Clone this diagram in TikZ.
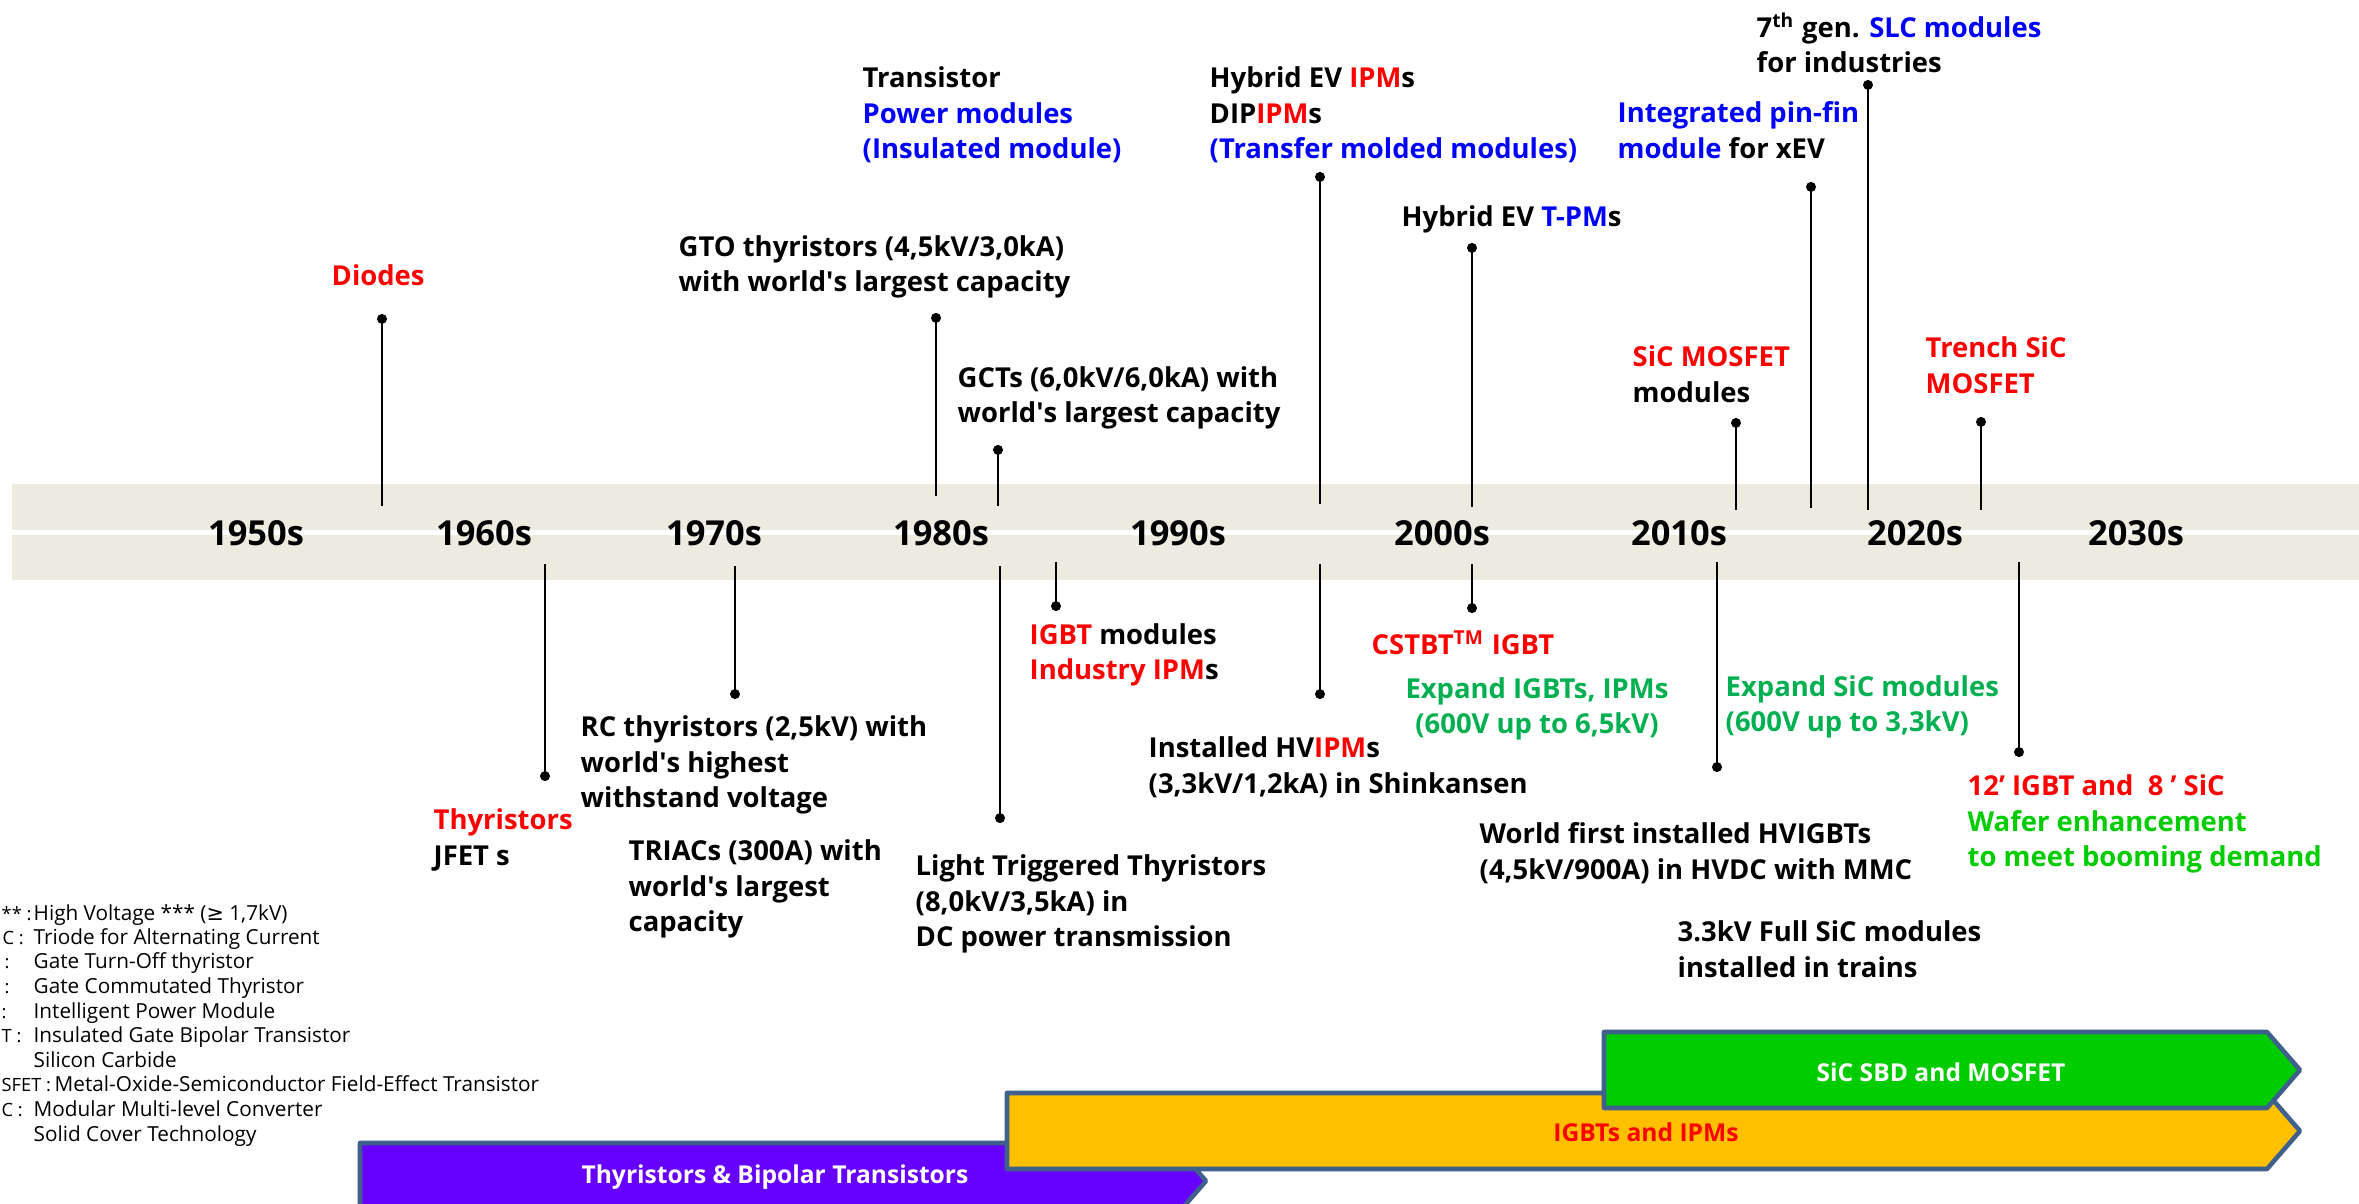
\documentclass[tikz,border=0pt]{standalone}
\usepackage{fontspec}
\setmainfont{Open Sans}
\newfontfamily\symfont{DejaVu Sans}
\usetikzlibrary{arrows.meta}
\definecolor{bandgray}{HTML}{EDEAE0}
\definecolor{hired}{HTML}{FF0000}
\definecolor{hiblue}{HTML}{0000FF}
\definecolor{hgreen}{HTML}{00B050}
\definecolor{lgreen}{HTML}{00CC00}
\definecolor{edgeblue}{HTML}{3F5F8C}
\definecolor{phpurple}{HTML}{6600FF}
\definecolor{phyellow}{HTML}{FFC000}
\definecolor{phgreen}{HTML}{00CC00}
\tikzset{
  evt/.style={anchor=west, inner sep=0pt, align=left,
              font=\fontsize{7.8}{10.1}\selectfont\bfseries},
  yr/.style={inner sep=0pt, font=\fontsize{9.8}{12}\selectfont\bfseries},
  stem/.style={line width=0.6pt, -{Circle[length=2.8pt]}},
  band/.style={fill=bandgray, draw=none},
  phase/.style={draw=edgeblue, line width=1.3pt, fill=#1, line join=round},
  phtxt/.style={inner sep=0pt, font=\fontsize{7}{8}\selectfont\bfseries, text=#1},
  lgd/.style={anchor=base west, inner sep=0pt, font=\fontsize{5.9}{7}\selectfont},
  lgdab/.style={lgd, font=\fontsize{5.2}{7}\selectfont},
}
\newcommand{\rd}[1]{\textcolor{hired}{#1}}
\newcommand{\bl}[1]{\textcolor{hiblue}{#1}}
\newcommand{\apo}{\textquotesingle}

\begin{document}
\begin{tikzpicture}[x=0.01cm, y=-0.01cm]
  \useasboundingbox (0,0) rectangle (2359,1204);
  \clip (0,0) rectangle (2359,1204);

  % timeline band
  \fill[band] (12,484) rectangle (2359,530);
  \fill[band] (12,535) rectangle (2359,580);

  % decades
  \node[yr] (y1950) at (256,533) {1950s};
  \node[yr] (y1960) at (484,533) {1960s};
  \node[yr] (y1970) at (714,533) {1970s};
  \node[yr] (y1980) at (941,533) {1980s};
  \node[yr] (y1990) at (1178,533) {1990s};
  \node[yr] (y2000) at (1442,533) {2000s};
  \node[yr] (y2010) at (1679,533) {2010s};
  \node[yr] (y2020) at (1915,533) {2020s};
  \node[yr] (y2030) at (2136,533) {2030s};

  % ABOVE THE BAND
  \node[evt, text=hired] (diodes) at (331,275) {Diodes};
  \node[evt] (gto) at (678,267) {GTO thyristors (4,5kV/3,0kA)\\with world\apo s largest capacity};
  \node[evt] (trans) at (862,115) {Transistor\\\bl{Power modules}\\\bl{(Insulated module)}};
  \node[evt] (gct) at (957,398) {GCTs (6,0kV/6,0kA) with\\world\apo s largest capacity};
  \node[evt] (hev) at (1209,115) {Hybrid EV \rd{IPM}s\\DIP\rd{IPM}s\\\bl{(Transfer molded modules)}};
  \node[evt] (tpm) at (1401,219) {Hybrid EV \bl{T-PM}s};
  \node[evt] (pinfin) at (1617,130) {\bl{Integrated pin-fin}\\\bl{module} for xEV};
  \node[evt] (slc) at (1756,43) {7\textsuperscript{th} gen. \bl{SLC modules}\\for industries};
  \node[evt] (sicmos) at (1632,374) {\rd{SiC MOSFET}\\modules};
  \node[evt, text=hired] (trench) at (1925,365) {Trench SiC\\MOSFET};

  \coordinate (diodes-b) at (382,506);  \coordinate (diodes-p) at (382,314);
  \coordinate (gto-b) at (936,496);     \coordinate (gto-p) at (936,313);
  \coordinate (gct-b) at (998,506);     \coordinate (gct-p) at (998,445);
  \coordinate (hev-b) at (1320,504);    \coordinate (hev-p) at (1320,172);
  \coordinate (tpm-b) at (1472,507);    \coordinate (tpm-p) at (1472,243);
  \coordinate (sicmos-b) at (1736,510); \coordinate (sicmos-p) at (1736,418);
  \coordinate (pinfin-b) at (1811,508); \coordinate (pinfin-p) at (1811,182);
  \coordinate (slc-b) at (1868,510);    \coordinate (slc-p) at (1868,80);
  \coordinate (trench-b) at (1981,510); \coordinate (trench-p) at (1981,417);

  \draw[stem] (diodes-b) -- (diodes-p);
  \draw[stem] (gto-b) -- (gto-p);
  \draw[stem] (gct-b) -- (gct-p);
  \draw[stem] (hev-b) -- (hev-p);
  \draw[stem] (tpm-b) -- (tpm-p);
  \draw[stem] (sicmos-b) -- (sicmos-p);
  \draw[stem] (pinfin-b) -- (pinfin-p);
  \draw[stem] (slc-b) -- (slc-p);
  \draw[stem] (trench-b) -- (trench-p);

  % BELOW THE BAND
  \node[evt] (thy) at (433,840) {\rd{Thyristors}\\JFET s};
  \node[evt] (rc) at (580,765) {RC thyristors (2,5kV) with\\world\apo s highest\\withstand voltage};
  \node[evt] (triac) at (628,889) {TRIACs (300A) with\\world\apo s largest\\capacity};
  \node[evt] (ltt) at (915,904) {Light Triggered Thyristors\\(8,0kV/3,5kA) in\\DC power transmission};
  \node[evt] (igbt) at (1029,655) {\rd{IGBT} modules\\\rd{Industry IPM}s};
  \node[evt] (hvipm) at (1148,767) {Installed HV\rd{IPM}s\\(3,3kV/1,2kA) in Shinkansen};
  \node[evt, text=hired] (cstbt) at (1371,643) {CSTBT\textsuperscript{TM} IGBT};
  \node[evt, anchor=center, align=center, text=hgreen] (expigbt) at (1537,709) {Expand IGBTs, IPMs\\(600V up to 6,5kV)};
  \node[evt] (hvigbt) at (1479,853) {World first installed HVIGBTs\\(4,5kV/900A) in HVDC with MMC};
  \node[evt, text=hgreen] (expsic) at (1725,707) {Expand SiC modules\\(600V up to 3,3kV)};
  \node[evt] (fullsic) at (1677,949) {3.3kV Full SiC modules\\installed in trains};
  \node[evt, text=lgreen] (wafer) at (1967,824) {\rd{12’ IGBT and \ 8 ’ SiC}\\Wafer enhancement\\to meet booming demand};

  \coordinate (thy-b) at (545,564);     \coordinate (thy-p) at (545,781);
  \coordinate (rc-b) at (735,566);      \coordinate (rc-p) at (735,699);
  \coordinate (ltt-b) at (1000,566);    \coordinate (ltt-p) at (1000,823);
  \coordinate (igbt-b) at (1056,562);   \coordinate (igbt-p) at (1056,611);
  \coordinate (hvipm-b) at (1320,564);  \coordinate (hvipm-p) at (1320,699);
  \coordinate (cstbt-b) at (1472,564);  \coordinate (cstbt-p) at (1472,613);
  \coordinate (hvigbt-b) at (1717,562); \coordinate (hvigbt-p) at (1717,772);
  \coordinate (wafer-b) at (2019,562);  \coordinate (wafer-p) at (2019,757);

  \draw[stem] (thy-b) -- (thy-p);
  \draw[stem] (rc-b) -- (rc-p);
  \draw[stem] (ltt-b) -- (ltt-p);
  \draw[stem] (igbt-b) -- (igbt-p);
  \draw[stem] (hvipm-b) -- (hvipm-p);
  \draw[stem] (cstbt-b) -- (cstbt-p);
  \draw[stem] (hvigbt-b) -- (hvigbt-p);
  \draw[stem] (wafer-b) -- (wafer-p);

  % abbreviations
  \node[lgdab] (ab1) at (1,921) {** :};
  \node[lgdab] (ab2) at (2,945) {C :};
  \node[lgdab] (ab3) at (4,969) {:};
  \node[lgdab] (ab4) at (4,994) {:};
  \node[lgdab] (ab5) at (1,1019) {:};
  \node[lgdab] (ab6) at (1,1043) {T :};
  \node[lgdab] (ab8) at (1,1092) {SFET :};
  \node[lgdab] (ab9) at (1,1117) {C :};
  \node[lgd] (lg1) at (33,921) {High Voltage *** ({\symfont ≥} 1,7kV)};
  \node[lgd] (lg2) at (33,945) {Triode for Alternating Current};
  \node[lgd] (lg3) at (33,969) {Gate Turn-Off thyristor};
  \node[lgd] (lg4) at (33,994) {Gate Commutated Thyristor};
  \node[lgd] (lg5) at (33,1019) {Intelligent Power Module};
  \node[lgd] (lg6) at (33,1043) {Insulated Gate Bipolar Transistor};
  \node[lgd] (lg7) at (33,1068) {Silicon Carbide};
  \node[lgd] (lg8) at (54,1092) {Metal-Oxide-Semiconductor Field-Effect Transistor};
  \node[lgd] (lg9) at (33,1117) {Modular Multi-level Converter};
  \node[lgd] (lg10) at (33,1142) {Solid Cover Technology};

  % technology phases
  \draw[phase=phpurple] (360,1143) -- (1173,1143) -- (1206,1181) -- (1173,1219) -- (360,1219) -- cycle;
  \node[phtxt=white] (thybip) at (775,1177) {Thyristors \& Bipolar Transistors};
  \draw[phase=phyellow] (1007,1093) -- (2267,1093) -- (2300,1131) -- (2267,1169) -- (1007,1169) -- cycle;
  \node[phtxt=hired] (igbtph) at (1646,1132) {IGBTs and IPMs};
  \draw[phase=phgreen] (1604,1032) -- (2267,1032) -- (2300,1070) -- (2267,1108) -- (1604,1108) -- cycle;
  \node[phtxt=white] (sicph) at (1941,1072) {SiC SBD and MOSFET};
\end{tikzpicture}
\end{document}
